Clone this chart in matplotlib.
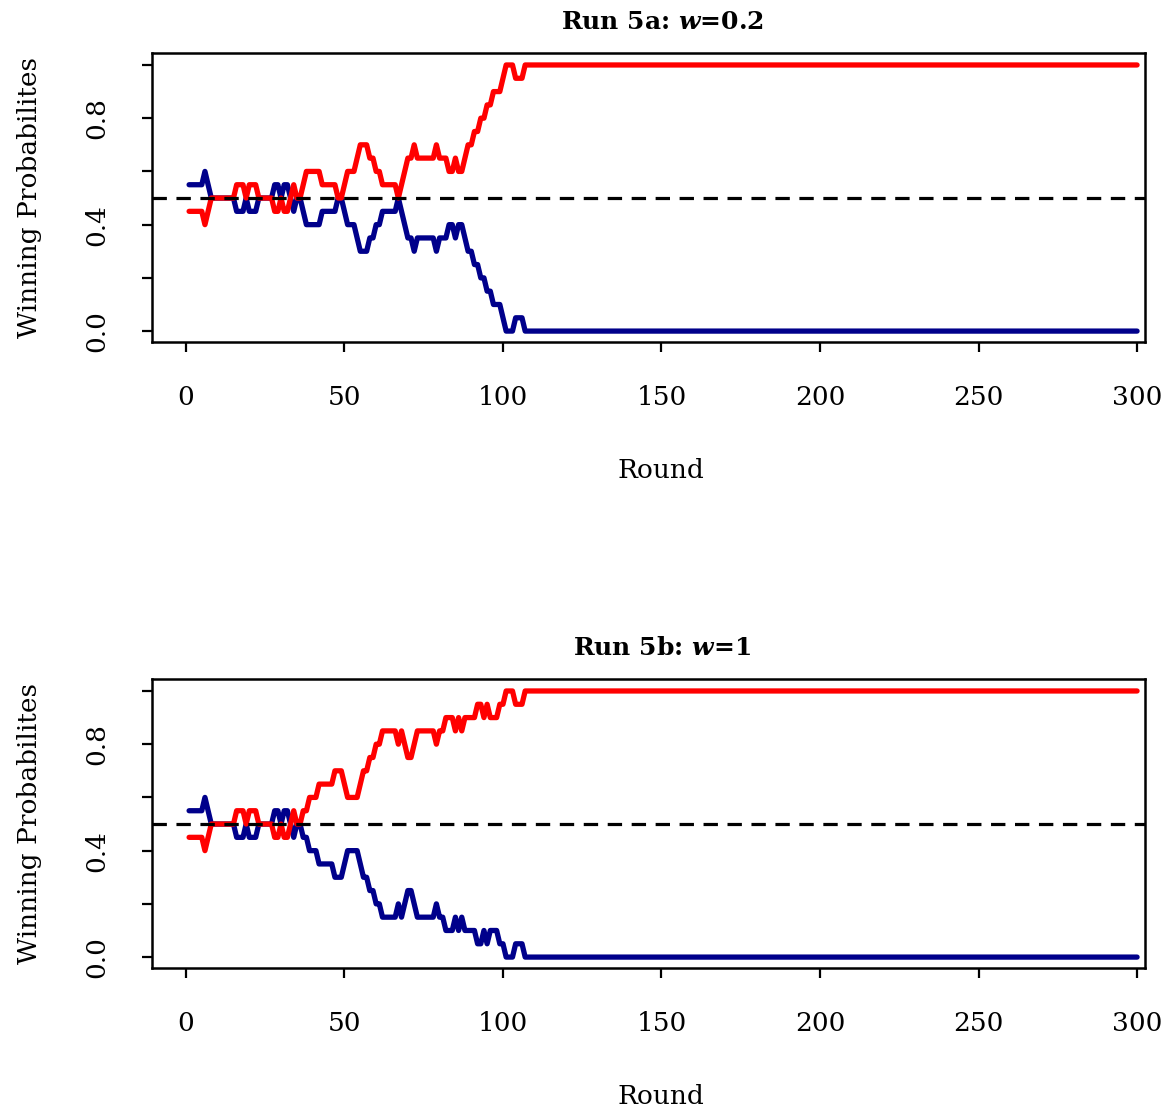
import numpy as np
import matplotlib
matplotlib.use("Agg")
import matplotlib.pyplot as plt

# Winning probabilities as (first round, value) steps
red_a = [(1, 0.45), (6, 0.40), (7, 0.45), (8, 0.50), (16, 0.55), (19, 0.50), (20, 0.55),
         (23, 0.50), (28, 0.45), (30, 0.50), (31, 0.45), (33, 0.50), (34, 0.55), (35, 0.50),
         (37, 0.55), (38, 0.60), (43, 0.55), (48, 0.50), (50, 0.55), (51, 0.60), (54, 0.65),
         (55, 0.70), (58, 0.65), (60, 0.60), (62, 0.55), (67, 0.50), (68, 0.55), (69, 0.60),
         (70, 0.65), (72, 0.70), (73, 0.65), (79, 0.70), (80, 0.65), (83, 0.60), (85, 0.65),
         (86, 0.60), (88, 0.65), (89, 0.70), (91, 0.75), (93, 0.80), (95, 0.85), (97, 0.90),
         (100, 0.95), (101, 1.00), (104, 0.95), (107, 1.00)]
blue_a = [(1, 0.55), (6, 0.60), (7, 0.55), (8, 0.50), (16, 0.45), (19, 0.50), (20, 0.45),
          (23, 0.50), (28, 0.55), (30, 0.50), (31, 0.55), (33, 0.50), (34, 0.45), (35, 0.50),
          (37, 0.45), (38, 0.40), (43, 0.45), (48, 0.50), (50, 0.45), (51, 0.40), (54, 0.35),
          (55, 0.30), (58, 0.35), (60, 0.40), (62, 0.45), (67, 0.50), (68, 0.45), (69, 0.40),
          (70, 0.35), (72, 0.30), (73, 0.35), (79, 0.30), (80, 0.35), (83, 0.40), (85, 0.35),
          (86, 0.40), (88, 0.35), (89, 0.30), (91, 0.25), (93, 0.20), (95, 0.15), (97, 0.10),
          (100, 0.05), (101, 0.00), (104, 0.05), (107, 0.00)]

red_b = [(1, 0.45), (6, 0.40), (7, 0.45), (8, 0.50), (16, 0.55), (19, 0.50), (20, 0.55),
         (23, 0.50), (28, 0.45), (30, 0.50), (31, 0.45), (33, 0.50), (34, 0.55), (35, 0.50),
         (37, 0.55), (39, 0.60), (42, 0.65), (47, 0.70), (50, 0.65), (51, 0.60), (55, 0.65),
         (56, 0.70), (58, 0.75), (60, 0.80), (62, 0.85), (67, 0.80), (68, 0.85), (69, 0.80),
         (70, 0.75), (72, 0.80), (73, 0.85), (79, 0.80), (80, 0.85), (82, 0.90), (85, 0.85),
         (86, 0.90), (87, 0.85), (88, 0.90), (92, 0.95), (94, 0.90), (95, 0.95), (96, 0.90),
         (99, 0.95), (101, 1.00), (104, 0.95), (107, 1.00)]
blue_b = [(1, 0.55), (6, 0.60), (7, 0.55), (8, 0.50), (16, 0.45), (19, 0.50), (20, 0.45),
          (23, 0.50), (28, 0.55), (30, 0.50), (31, 0.55), (33, 0.50), (34, 0.45), (35, 0.50),
          (37, 0.45), (39, 0.40), (42, 0.35), (47, 0.30), (50, 0.35), (51, 0.40), (55, 0.35),
          (56, 0.30), (58, 0.25), (60, 0.20), (62, 0.15), (67, 0.20), (68, 0.15), (69, 0.20),
          (70, 0.25), (72, 0.20), (73, 0.15), (79, 0.20), (80, 0.15), (82, 0.10), (85, 0.15),
          (86, 0.10), (87, 0.15), (88, 0.10), (92, 0.05), (94, 0.10), (95, 0.05), (96, 0.10),
          (99, 0.05), (101, 0.00), (104, 0.05), (107, 0.00)]

n_rounds = 300
titles = ["Run 5a: $\\mathbfit{w}$=0.2", "Run 5b: $\\mathbfit{w}$=1"]
x_ticks = [0, 50, 100, 150, 200, 250, 300]
y_ticks = [0.0, 0.2, 0.4, 0.6, 0.8, 1.0]
y_labels = ["0.0", "", "0.4", "", "0.8", ""]

plt.rcParams['font.family'] = ['DejaVu Serif']
plt.rcParams['mathtext.fontset'] = 'dejavuserif'

def expand(steps, n):
    rounds = np.arange(1, n + 1)
    starts = np.array([s[0] for s in steps])
    vals = np.array([s[1] for s in steps])
    return rounds, vals[np.searchsorted(starts, rounds, side='right') - 1]

W, H = 1176, 1114
fig = plt.figure(figsize=(W / 100, H / 100), dpi=100)

panels = [(red_a, blue_a, 53), (red_b, blue_b, 679)]
for i, (red, blue, top) in enumerate(panels):
    ax = fig.add_axes([152 / W, 1 - (top + 289) / H, 993 / W, 289 / H])
    r, b = expand(blue, n_rounds)
    ax.plot(r, b, color='#00008B', lw=3.8, solid_joinstyle='round', solid_capstyle='round')
    r, v = expand(red, n_rounds)
    ax.plot(r, v, color='#FF0000', lw=3.8, solid_joinstyle='round', solid_capstyle='round')
    ax.axhline(0.5, color='black', lw=2.3, ls=(0, (4.5, 3)))
    ax.set_xlim(-10.7, 302.5)
    ax.set_ylim(-0.041, 1.045)
    ax.set_xticks(x_ticks)
    ax.set_xticklabels([str(t) for t in x_ticks], fontsize=19)
    ax.set_yticks(y_ticks)
    ax.set_yticklabels(y_labels, fontsize=19, rotation=90, va='center')
    ax.tick_params(length=7, width=1.6)
    ax.tick_params(axis='x', pad=24)
    ax.tick_params(axis='y', pad=24)
    for sp in ax.spines.values():
        sp.set_linewidth(1.8)
    ax.set_ylabel("Winning Probabilites", fontsize=19, labelpad=30)
    fig.text(662 / W, 1 - (top - 31) / H, titles[i], ha='center', va='center',
             fontsize=18, fontweight='bold')
    fig.text(661 / W, 1 - (top + 418) / H, "Round", ha='center', va='center', fontsize=19)

fig.savefig("out.png", dpi=100)
